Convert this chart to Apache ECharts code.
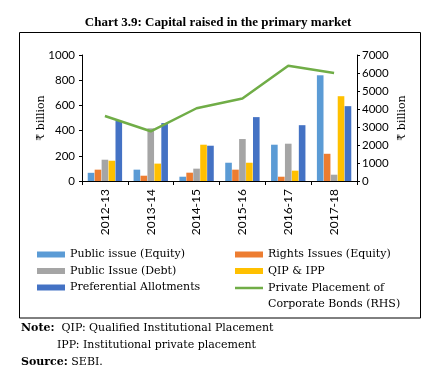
<!DOCTYPE html>
<html><head><meta charset="utf-8">
<script src="https://cdn.jsdelivr.net/npm/echarts@6/dist/echarts.min.js"></script>
<style>html,body{margin:0;padding:0;background:#fff}#c{width:436px;height:378px}</style>
</head><body><div id="c"></div>
<script>
const categories = ['2012-13','2013-14','2014-15','2015-16','2016-17','2017-18'];
const publicIssueEquity = [65, 90, 34, 145, 288, 839];
const rightsIssues = [90, 42, 66, 90, 34, 216];
const publicIssueDebt = [169, 418, 98, 333, 296, 50];
const qipIpp = [161, 138, 288, 145, 82, 673];
const preferentialAllotments = [476, 460, 280, 507, 443, 594];
const privatePlacement = [3614, 2761, 4042, 4583, 6407, 5994];
const leftAxisRange = {min: 0, max: 1000, interval: 200};
const rightAxisRange = {min: 0, max: 7000, interval: 1000};
const seriesNames = ['Public issue (Equity)','Rights Issues (Equity)','Public Issue (Debt)','QIP & IPP','Preferential Allotments','Private Placement of Corporate Bonds (RHS)'];
const colors = ['#5B9BD5','#ED7D31','#A5A5A5','#FFC000','#4472C4','#70AD47'];

const serif = '"DejaVu Serif", "Liberation Serif", serif';
const titleSerif = '"Liberation Serif", "DejaVu Serif", serif';
const sans = 'Lato, "Liberation Sans", sans-serif';
const fs = 11;
const chart = echarts.init(document.getElementById('c'), null, {renderer:'canvas'});
const barData = [publicIssueEquity, rightsIssues, publicIssueDebt, qipIpp, preferentialAllotments];
const series = barData.map((d,i)=>({
  name: seriesNames[i], type:'bar', data:d, yAxisIndex:0,
  itemStyle:{color:colors[i]}, barGap:'5%', barCategoryGap:'25%'
}));
series.push({name: seriesNames[5], type:'line', yAxisIndex:1, data: privatePlacement,
  showSymbol:false, symbol:'none', lineStyle:{color:colors[5], width:2.5}, itemStyle:{color:colors[5]}});

const legendText = {fontFamily: serif, fontSize: fs, color:'#000', lineHeight:15};
chart.setOption({
  animation:false,
  backgroundColor:'#fff',
  title:{text:'Chart 3.9: Capital raised in the primary market', left:'center', top:11,
    textStyle:{fontFamily:titleSerif, fontSize:13, fontWeight:'bold', color:'#000'}},
  grid:{left:82, right:79, top:55, bottom:197},
  xAxis:{type:'category', data:categories,
    axisLine:{lineStyle:{color:'#000', width:1}},
    axisTick:{show:true, length:4, lineStyle:{color:'#000'}},
    axisLabel:{rotate:90, fontFamily:sans, fontSize:12, color:'#000', margin:8}},
  yAxis:[
    {type:'value', min:leftAxisRange.min, max:leftAxisRange.max, interval:leftAxisRange.interval,
     name:'₹ billion', nameLocation:'middle', nameGap:35, nameMoveOverlap:false,
     nameTextStyle:{fontFamily:serif, fontSize:fs, color:'#000'},
     splitLine:{show:false},
     axisLine:{show:true, lineStyle:{color:'#000'}},
     axisTick:{show:true, length:3, lineStyle:{color:'#000'}},
     axisLabel:{fontFamily:sans, fontSize:11.5, color:'#000', margin:7, formatter: v => String(v)}},
    {type:'value', min:rightAxisRange.min, max:rightAxisRange.max, interval:rightAxisRange.interval,
     name:'₹ billion', nameLocation:'middle', nameGap:40, nameRotate:90, nameMoveOverlap:false,
     nameTextStyle:{fontFamily:serif, fontSize:fs, color:'#000'},
     splitLine:{show:false},
     axisLine:{show:true, lineStyle:{color:'#000'}},
     axisTick:{show:true, length:3, lineStyle:{color:'#000'}},
     axisLabel:{fontFamily:sans, fontSize:11.5, color:'#000', margin:5, formatter: v => String(v)}}
  ],
  legend:[
    {left:37, top:247, orient:'vertical', padding:0, itemGap:1.5, itemWidth:28, itemHeight:6,
     icon:'rect', data:[seriesNames[0], seriesNames[2], seriesNames[4]], textStyle:legendText, selectedMode:false},
    {left:235, top:247, orient:'vertical', padding:0, itemGap:1.5, itemWidth:28, itemHeight:6,
     icon:'rect', data:[seriesNames[1], seriesNames[3]], textStyle:legendText, selectedMode:false},
    {left:235, top:264, orient:'vertical', padding:0, itemWidth:28, itemHeight:2.5,
     data:[{name:seriesNames[5], icon:'rect'}], selectedMode:false,
     formatter: n => '{e| }\n{a|Private Placement of}\n{a|Corporate Bonds (RHS)}',
     textStyle:Object.assign({}, legendText, {rich:{
       e:{fontFamily:serif, fontSize:fs, lineHeight:16},
       a:{fontFamily:serif, fontSize:fs, lineHeight:16, color:'#000'}}})}
  ],
  graphic:[
    {type:'rect', shape:{x:19.5, y:32.5, width:401, height:285.5}, style:{fill:null, stroke:'#000', lineWidth:1}, silent:true},
    {type:'text', left:21, top:323, style:{text:'{b|Note:}  QIP: Qualified Institutional Placement', fontFamily:serif, fontSize:fs, fill:'#000',
      rich:{b:{fontFamily:serif, fontSize:fs, fontWeight:'bold', fill:'#000'}}}},
    {type:'text', left:57, top:340, style:{text:'IPP: Institutional private placement', fontFamily:serif, fontSize:fs, fill:'#000'}},
    {type:'text', left:21, top:357, style:{text:'{b|Source:} SEBI.', fontFamily:serif, fontSize:fs, fill:'#000',
      rich:{b:{fontFamily:serif, fontSize:fs, fontWeight:'bold', fill:'#000'}}}}
  ],
  series: series
});
</script></body></html>
